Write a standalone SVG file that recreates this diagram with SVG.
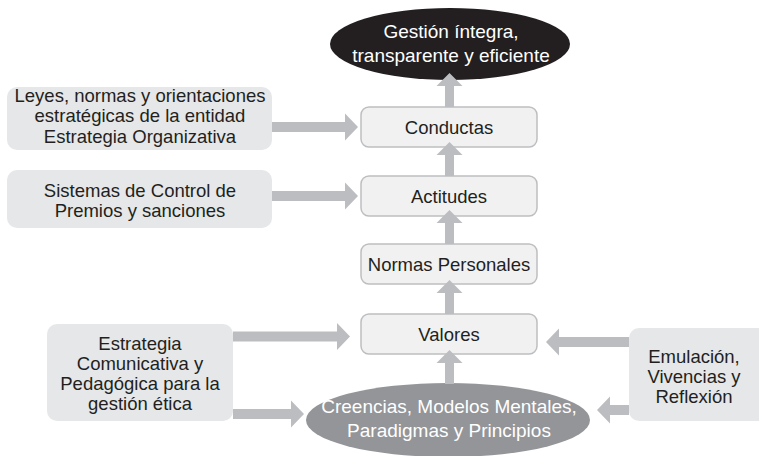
<svg xmlns="http://www.w3.org/2000/svg" width="759" height="456" viewBox="0 0 759 456">
<style>
  text { font-family: "Liberation Sans", Arial, sans-serif; font-size: 18.5px; fill: #231f20; text-anchor: middle; }
  .side { fill: #e6e7e8; }
  .step { fill: #f1f1f2; stroke: #bcbec0; stroke-width: 1.5; }
  .ell { font-size: 19px; fill: #ffffff; }
  .arrow { fill: #bcbdc0; }
</style>
<rect width="759" height="456" fill="#ffffff"/>

<g id="goal">
  <ellipse cx="450" cy="44" rx="120" ry="36" fill="#231f20"/>
  <text class="ell" x="451" y="38">Gestión íntegra,</text>
  <text class="ell" x="451" y="62">transparente y eficiente</text>
</g>

<g id="leyes">
  <rect class="side" x="7" y="87" width="265" height="63" rx="10"/>
  <text x="140" y="102">Leyes, normas y orientaciones</text>
  <text x="140" y="122">estratégicas de la entidad</text>
  <text x="140" y="143">Estrategia Organizativa</text>
</g>

<g id="sistemas">
  <rect class="side" x="7" y="170" width="265" height="58" rx="10"/>
  <text x="140" y="197">Sistemas de Control de</text>
  <text x="140" y="217">Premios y sanciones</text>
</g>

<g id="estrategia">
  <rect class="side" x="47" y="324" width="186" height="97" rx="10"/>
  <text x="140" y="350">Estrategia</text>
  <text x="140" y="370">Comunicativa y</text>
  <text x="140" y="390">Pedagógica para la</text>
  <text x="140" y="410">gestión ética</text>
</g>

<g id="emulacion">
  <rect class="side" x="629" y="328" width="140" height="93" rx="10"/>
  <text x="694" y="363">Emulación,</text>
  <text x="694" y="383">Vivencias y</text>
  <text x="694" y="403">Reflexión</text>
</g>

<g id="conductas">
  <rect class="step" x="361" y="107" width="176" height="40" rx="8"/>
  <text x="449" y="134">Conductas</text>
</g>

<g id="actitudes">
  <rect class="step" x="361" y="176" width="176" height="40" rx="8"/>
  <text x="449" y="203">Actitudes</text>
</g>

<g id="normas">
  <rect class="step" x="361" y="244" width="176" height="40" rx="8"/>
  <text x="449" y="271">Normas Personales</text>
</g>

<g id="valores">
  <rect class="step" x="361" y="314" width="176" height="40" rx="8"/>
  <text x="449" y="341">Valores</text>
</g>

<g id="creencias">
  <ellipse cx="448" cy="420" rx="142" ry="37" fill="#939598"/>
  <text class="ell" x="449" y="413">Creencias, Modelos Mentales,</text>
  <text class="ell" x="449" y="437">Paradigmas y Principios</text>
</g>

<g id="connectors">
  <polygon class="arrow" points="272,122 345,122 345,113.5 358,127 345,140.5 345,132 272,132"/>
  <polygon class="arrow" points="272,191 345,191 345,182.5 358,196 345,209.5 345,201 272,201"/>
  <polygon class="arrow" points="233,331.5 337,331.5 337,323 350,336.5 337,350 337,341.5 233,341.5"/>
  <polygon class="arrow" points="233,409 291,409 291,400.5 304,414 291,427.5 291,419 233,419"/>
  <polygon class="arrow" points="629,337 559,337 559,328.5 546,342 559,355.5 559,347 629,347"/>
  <polygon class="arrow" points="629,405 610,405 610,396.5 597,410 610,423.5 610,415 629,415"/>
  <polygon class="arrow" points="445,107 445,86 436.5,86 449.5,73 462.5,86 454,86 454,107"/>
  <polygon class="arrow" points="445,176 445,155 436.5,155 449.5,142 462.5,155 454,155 454,176"/>
  <polygon class="arrow" points="445,244 445,223 436.5,223 449.5,210 462.5,223 454,223 454,244"/>
  <polygon class="arrow" points="445,314 445,293 436.5,293 449.5,280 462.5,293 454,293 454,314"/>
  <polygon class="arrow" points="445,384 445,363 436.5,363 449.5,350 462.5,363 454,363 454,384"/>
</g>
</svg>
